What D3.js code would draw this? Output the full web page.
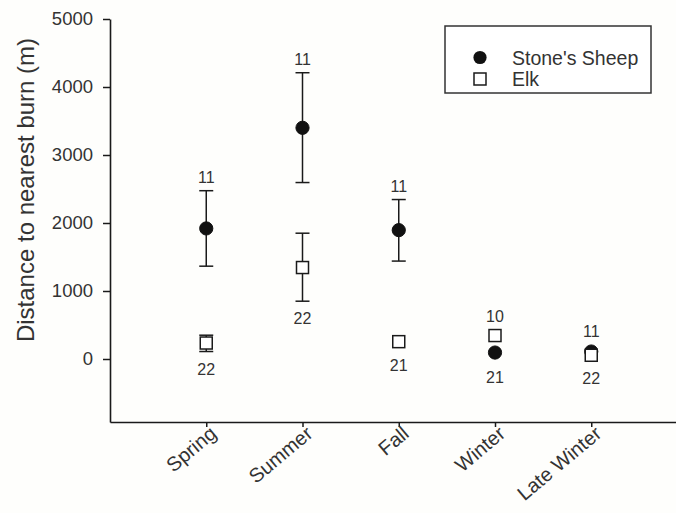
<!DOCTYPE html>
<html>
<head>
<meta charset="utf-8">
<script src="https://cdn.jsdelivr.net/npm/d3@7"></script>
<style>
  html, body { margin: 0; padding: 0; background: #fefefc; }
  svg { display: block; }
  text { font-family: "Liberation Sans", Arial, sans-serif; fill: #333; }
</style>
</head>
<body>
<svg id="chart" width="676" height="513"></svg>
<script>
// Seasons on the x axis
const seasons = ["Spring", "Summer", "Fall", "Winter", "Late Winter"];

// Stone's sheep: mean distance and error-bar bounds (m)
const sheepMean  = [1920, 3400, 1895, 95, 110];
const sheepLower = [1365, 2595, 1440, 95, 110];
const sheepUpper = [2475, 4210, 2345, 95, 110];

// Elk: mean distance and error-bar bounds (m)
const elkMean  = [235, 1345, 255, 345, 55];
const elkLower = [110, 850, 255, 345, 55];
const elkUpper = [350, 1850, 255, 345, 55];

// Sample sizes written above and below each season
const topCounts    = ["11", "11", "11", "10", "11"];
const bottomCounts = ["22", "22", "21", "21", "22"];

const yTicks = [0, 1000, 2000, 3000, 4000, 5000];
const yTitle = "Distance to  nearest burn (m)";
const legendLabels = ["Stone's Sheep", "Elk"];

const svg = d3.select("#chart");
const ink = "#1a1a1a";
const font = '"Liberation Sans", Arial, sans-serif';

const x = d3.scaleLinear().domain([0, 6]).range([110, 687.5]);
const y = d3.scaleLinear().domain([0, 5000]).range([359, 19]);
const xAt = i => x(i + 1);
const yFloor = y.invert(422);

// Y axis runs from the bottom of the plot up to 5000
const yAxis = d3.axisLeft(y.copy().domain([yFloor, 5000]).range([422, 19]))
  .tickValues(yTicks).tickFormat(d3.format("d"))
  .tickSize(7).tickPadding(10).tickSizeOuter(0);
const gy = svg.append("g").attr("transform", `translate(${x(0)},0)`).call(yAxis);
gy.select(".domain").attr("stroke", ink).attr("stroke-width", 1.6);
gy.selectAll(".tick line").attr("stroke", ink).attr("stroke-width", 1.5);
gy.selectAll(".tick text").style("font-size", "18.5px").style("fill", "#333")
  .style("font-family", font);

// X axis with rotated season names
const xAxis = d3.axisBottom(x).tickValues([1, 2, 3, 4, 5])
  .tickFormat(d => seasons[d - 1]).tickSize(5).tickPadding(0).tickSizeOuter(0);
const gx = svg.append("g").attr("transform", `translate(0,${y(yFloor)})`).call(xAxis);
gx.select(".domain").attr("stroke", ink).attr("stroke-width", 1.6);
gx.selectAll(".tick line").attr("stroke", ink).attr("stroke-width", 1.5);
gx.selectAll(".tick text")
  .style("font-size", "20px").style("fill", "#333")
  .style("font-family", font)
  .attr("text-anchor", "end")
  .attr("y", 0).attr("dy", "0.7em")
  .attr("transform", "translate(2,3) rotate(-40)");

// Y axis title
svg.append("text")
  .attr("transform", "translate(34,190) rotate(-90)")
  .attr("text-anchor", "middle")
  .style("font-size", "24px")
  .text(yTitle);

// Error bars with caps
function errorBars(lower, upper) {
  const g = svg.append("g").attr("stroke", ink).attr("stroke-width", 1.5);
  seasons.forEach((s, i) => {
    if (upper[i] === lower[i]) return;
    const cx = xAt(i);
    g.append("line").attr("x1", cx).attr("x2", cx).attr("y1", y(upper[i])).attr("y2", y(lower[i]));
    [upper[i], lower[i]].forEach(v => {
      g.append("line").attr("x1", cx - 7).attr("x2", cx + 7).attr("y1", y(v)).attr("y2", y(v));
    });
  });
}
errorBars(sheepLower, sheepUpper);
errorBars(elkLower, elkUpper);

// Markers: filled circles for sheep, open squares for elk
svg.append("g").selectAll("circle").data(sheepMean).join("circle")
  .attr("cx", (d, i) => xAt(i)).attr("cy", d => y(d)).attr("r", 6.6)
  .attr("fill", "#111").attr("stroke", "#111");

svg.append("g").selectAll("rect").data(elkMean).join("rect")
  .attr("x", (d, i) => xAt(i) - 6).attr("y", d => y(d) - 6)
  .attr("width", 12).attr("height", 12)
  .attr("fill", "#fff").attr("stroke", ink).attr("stroke-width", 1.5);

// Sample sizes above and below each season's marks
seasons.forEach((s, i) => {
  const top = Math.min(y(sheepUpper[i]), y(elkUpper[i]), y(sheepMean[i]) - 7, y(elkMean[i]) - 6);
  const bottom = Math.max(y(sheepLower[i]), y(elkLower[i]), y(sheepMean[i]) + 7, y(elkMean[i]) + 6);
  svg.append("text").attr("x", xAt(i)).attr("y", top - 8)
    .attr("text-anchor", "middle").style("font-size", "16px").text(topCounts[i]);
  svg.append("text").attr("x", xAt(i)).attr("y", bottom + 23)
    .attr("text-anchor", "middle").style("font-size", "16px").text(bottomCounts[i]);
});

// Legend
const lg = svg.append("g");
lg.append("rect").attr("x", 445).attr("y", 26).attr("width", 206).attr("height", 67)
  .attr("fill", "#fff").attr("stroke", "#333").attr("stroke-width", 1.5);
lg.append("circle").attr("cx", 480).attr("cy", 57.5).attr("r", 6.6).attr("fill", "#111");
lg.append("rect").attr("x", 474).attr("y", 73).attr("width", 12).attr("height", 12)
  .attr("fill", "#fff").attr("stroke", ink).attr("stroke-width", 1.5);
lg.selectAll("text.leg").data(legendLabels).join("text").attr("class", "leg")
  .attr("x", 512).attr("y", (d, i) => 64.5 + i * 21.5)
  .style("font-size", "19.5px").text(d => d);
</script>
</body>
</html>
